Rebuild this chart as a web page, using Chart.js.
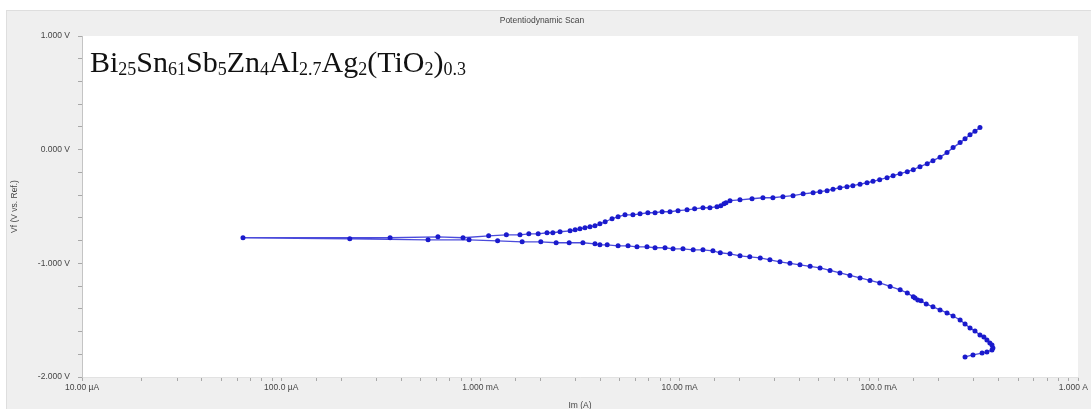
<!DOCTYPE html>
<html>
<head>
<meta charset="utf-8">
<script src="https://cdn.jsdelivr.net/npm/chart.js@4.4.1/dist/chart.umd.min.js"></script>
<style>
  html, body { margin: 0; padding: 0; background: #ffffff; overflow: hidden; }
  canvas { display: block; }
</style>
</head>
<body>
<canvas id="c" width="1091" height="409"></canvas>
<script>
// ---- data (|I| in A, potential in V) ----
const cathodicCurrent = [
  0.271, 0.297, 0.330, 0.349, 0.370, 0.374,
  0.370, 0.361, 0.349, 0.337, 0.322, 0.304, 0.287, 0.271, 0.256, 0.236, 0.220, 0.203, 0.187, 0.173,
  0.163, 0.157, 0.152, 0.149, 0.139, 0.128, 0.114, 0.101, 0.0903, 0.0805, 0.0716, 0.0638, 0.0569,
  0.0507, 0.0452, 0.0402, 0.0358, 0.0319, 0.0284, 0.0254, 0.0225, 0.0201, 0.0179, 0.0160,
  0.0147, 0.0131, 0.0117, 0.0104, 0.00927, 0.00845, 0.00753, 0.00686, 0.00611, 0.00551, 0.00491,
  0.00433, 0.00398, 0.00376, 0.00327, 0.00279, 0.00240, 0.00201, 0.00162, 0.00122, 0.000877,
  0.000546, 0.000221, 0.0000643
];
const cathodicPotential = [
  -1.824, -1.806, -1.789, -1.780, -1.762, -1.744,
  -1.718, -1.700, -1.674, -1.648, -1.630, -1.595, -1.568, -1.533, -1.498, -1.463, -1.436, -1.410, -1.383, -1.357,
  -1.330, -1.322, -1.304, -1.295, -1.260, -1.233, -1.203, -1.172, -1.150, -1.128, -1.106, -1.084, -1.062,
  -1.040, -1.026, -1.013, -1.000, -0.987, -0.969, -0.952, -0.943, -0.934, -0.916, -0.907,
  -0.890, -0.881, -0.881, -0.872, -0.872, -0.863, -0.863, -0.855, -0.855, -0.846, -0.846,
  -0.837, -0.837, -0.828, -0.819, -0.819, -0.819, -0.811, -0.811, -0.802, -0.793,
  -0.793, -0.784, -0.775
];
const anodicCurrent = [
  0.000352, 0.000612, 0.000818, 0.00110, 0.00135, 0.00158, 0.00175, 0.00195, 0.00216, 0.00231,
  0.00251, 0.00282, 0.00299, 0.00316, 0.00335, 0.00355, 0.00376, 0.00398, 0.00423, 0.00458,
  0.00491, 0.00532, 0.00583, 0.00633, 0.00693, 0.00753, 0.00817, 0.00895, 0.00982, 0.0109,
  0.0119, 0.0131, 0.0142, 0.0154, 0.0161, 0.0167, 0.0171, 0.0179, 0.0201, 0.0231,
  0.0262, 0.0294, 0.0330, 0.0371, 0.0417, 0.0468, 0.0507, 0.0550, 0.0589, 0.0638,
  0.0692, 0.0741, 0.0805, 0.0873, 0.0935, 0.101, 0.110, 0.118, 0.128, 0.139,
  0.149, 0.161, 0.175, 0.187, 0.203, 0.220, 0.236, 0.256, 0.271, 0.287, 0.304, 0.322
];
const anodicPotential = [
  -0.775, -0.767, -0.775, -0.758, -0.749, -0.749, -0.740, -0.740, -0.731, -0.731,
  -0.722, -0.714, -0.705, -0.696, -0.687, -0.678, -0.670, -0.652, -0.634, -0.608,
  -0.590, -0.573, -0.573, -0.564, -0.555, -0.555, -0.546, -0.546, -0.537, -0.529,
  -0.520, -0.511, -0.511, -0.502, -0.493, -0.476, -0.467, -0.449, -0.441, -0.432,
  -0.423, -0.423, -0.414, -0.405, -0.388, -0.379, -0.370, -0.361, -0.348, -0.335,
  -0.326, -0.317, -0.304, -0.291, -0.278, -0.264, -0.247, -0.229, -0.211, -0.194,
  -0.176, -0.150, -0.123, -0.097, -0.066, -0.026, 0.018, 0.062, 0.097, 0.132, 0.163, 0.194
];

const xTickLabels = ['10.00 µA', '100.0 µA', '1.000 mA', '10.00 mA', '100.0 mA', '1.000 A'];
const yTickLabels = ['-2.000 V', '-1.000 V', '0.000 V', '1.000 V'];
const chartTitle = 'Potentiodynamic Scan';
const xAxisTitle = 'Im (A)';
const yAxisTitle = 'Vf (V vs. Ref.)';
// formula text: [text, isSubscript]
const formulaParts = [
  ['Bi', 0], ['25', 1], ['Sn', 0], ['61', 1], ['Sb', 0], ['5', 1], ['Zn', 0], ['4', 1],
  ['Al', 0], ['2.7', 1], ['Ag', 0], ['2', 1], ['(TiO', 0], ['2', 1], [')', 0], ['0.3', 1]
];

// ---- build ----
const allCurrent = cathodicCurrent.concat(anodicCurrent);
const allPotential = cathodicPotential.concat(anodicPotential);
const points = allCurrent.map((c, i) => ({ x: c, y: allPotential[i] }));

const smallFont = { family: "'Liberation Sans', Arial, sans-serif", size: 8.5 };
const labelColor = '#454545';

const frame = {
  id: 'frame',
  beforeDraw(chart) {
    const ctx = chart.ctx, a = chart.chartArea;
    ctx.save();
    ctx.fillStyle = '#ffffff';
    ctx.fillRect(0, 0, chart.width, chart.height);
    ctx.fillStyle = '#efefef';
    ctx.fillRect(6, 10, chart.width - 6, chart.height - 10);
    ctx.strokeStyle = '#dedede';
    ctx.lineWidth = 1;
    ctx.strokeRect(6.5, 10.5, chart.width - 6, chart.height - 10);
    ctx.fillStyle = '#ffffff';
    ctx.fillRect(a.left, a.top, a.right - a.left, a.bottom - a.top);
    ctx.restore();
  },
  afterDraw(chart) {
    const ctx = chart.ctx;
    ctx.save();
    ctx.fillStyle = '#111111';
    ctx.textBaseline = 'alphabetic';
    ctx.textAlign = 'left';
    let x = 90;
    const base = 72;
    formulaParts.forEach(([t, sub]) => {
      ctx.font = sub ? "18px 'Liberation Serif', 'Times New Roman', serif"
                     : "30px 'Liberation Serif', 'Times New Roman', serif";
      ctx.fillText(t, x, sub ? base + 3 : base);
      x += ctx.measureText(t).width;
    });
    ctx.restore();
  }
};

new Chart(document.getElementById('c'), {
  type: 'scatter',
  data: {
    datasets: [{
      data: points,
      showLine: true,
      borderColor: 'rgba(30,30,210,0.8)',
      borderWidth: 1.3,
      pointRadius: 2.5,
      pointBorderWidth: 0,
      pointBackgroundColor: '#1a1acc',
      tension: 0
    }]
  },
  options: {
    responsive: false,
    devicePixelRatio: 1,
    animation: false,
    layout: { padding: { left: 6, top: 10, right: 13, bottom: 0 } },
    plugins: {
      legend: { display: false },
      tooltip: { enabled: false },
      title: {
        display: true,
        text: chartTitle,
        color: labelColor,
        font: { family: smallFont.family, size: 8.5, weight: 'normal' },
        padding: { top: 6, bottom: 9.8 }
      }
    },
    scales: {
      x: {
        type: 'logarithmic',
        min: 1e-5,
        max: 1,
        border: { display: true, color: '#e2e2e2' },
        grid: { drawOnChartArea: false, drawTicks: true, tickLength: 4, tickColor: '#a8a8a8' },
        ticks: {
          autoSkip: false,
          maxRotation: 0,
          padding: 2,
          color: labelColor,
          font: smallFont,
          callback: (v) => {
            const l = Math.log10(v);
            if (Math.abs(l - Math.round(l)) < 1e-6) {
              const idx = Math.round(l) + 5;
              if (xTickLabels[idx] === undefined) return '';
              // last label sits fully inside the frame, as in the reference
              return idx === xTickLabels.length - 1 ? xTickLabels[idx] + '    ' : xTickLabels[idx];
            }
            return '';
          }
        },
        title: {
          display: true,
          text: xAxisTitle,
          color: labelColor,
          font: smallFont,
          padding: { top: 0, bottom: -2 }
        },
        afterFit: (s) => { s.height = 32; s.paddingLeft = 0; s.paddingRight = 0; }
      },
      y: {
        type: 'linear',
        min: -2,
        max: 1,
        border: { display: true, color: '#c4c4c4' },
        grid: { drawOnChartArea: false, drawTicks: true, tickLength: 4, tickColor: '#a8a8a8' },
        ticks: {
          stepSize: 0.2,
          autoSkip: false,
          padding: 8,
          color: labelColor,
          font: smallFont,
          callback: (v) => {
            if (Math.abs(v - Math.round(v)) < 1e-6) {
              const idx = Math.round(v) + 2;
              return yTickLabels[idx] !== undefined ? yTickLabels[idx] : '';
            }
            return '';
          }
        },
        title: {
          display: true,
          text: yAxisTitle,
          color: labelColor,
          font: smallFont,
          padding: { top: 4, bottom: 0 }
        },
        afterFit: (s) => { s.width = 76; s.paddingTop = 0; s.paddingBottom = 0; }
      }
    }
  },
  plugins: [frame]
});
</script>
</body>
</html>
